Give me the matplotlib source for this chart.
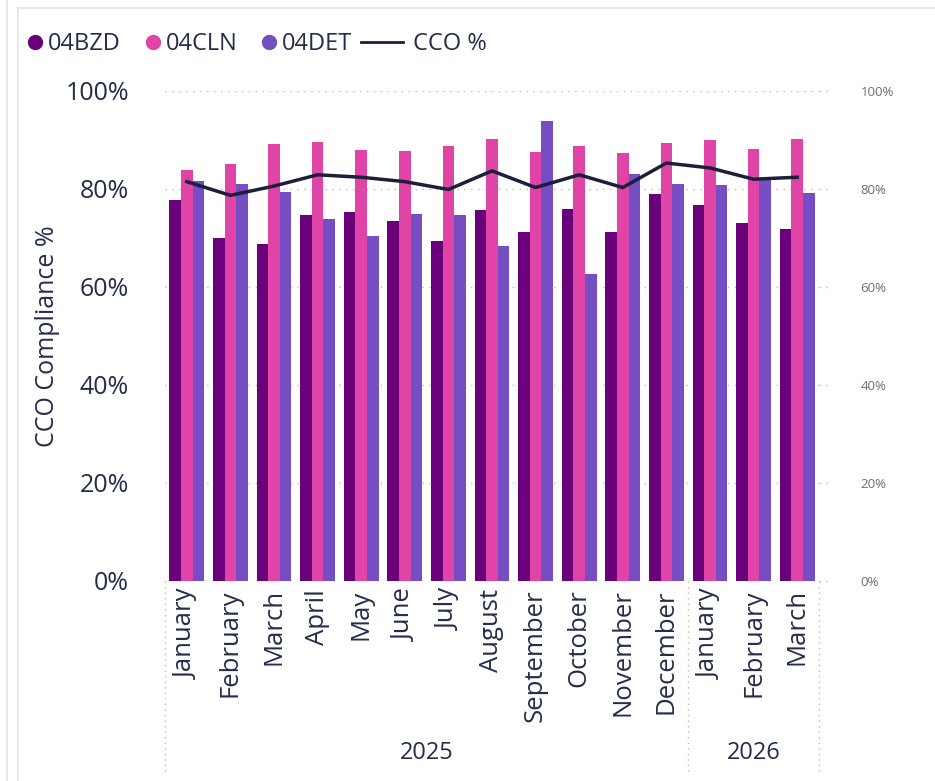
import matplotlib
matplotlib.use("Agg")
import matplotlib.pyplot as plt
import numpy as np
from matplotlib.lines import Line2D

plt.rcParams['font.family'] = ['Open Sans', 'DejaVu Sans']

months = ["January", "February", "March", "April", "May", "June", "July", "August",
          "September", "October", "November", "December", "January", "February", "March"]
years = ["2025", "2026"]
year_counts = [12, 3]

bzd = [77.7, 69.9, 68.8, 74.7, 75.4, 73.5, 69.3, 75.7, 71.3, 75.9, 71.3, 78.9, 76.7, 73.0, 71.8]
cln = [83.9, 85.0, 89.1, 89.5, 87.9, 87.8, 88.8, 90.2, 87.6, 88.8, 87.3, 89.4, 89.9, 88.2, 90.3]
det = [81.6, 81.0, 79.4, 73.8, 70.5, 75.0, 74.7, 68.4, 93.9, 62.6, 83.1, 81.0, 80.8, 81.8, 79.1]
cco = [81.5, 78.7, 80.6, 82.9, 82.4, 81.5, 79.9, 83.7, 80.3, 82.9, 80.3, 85.3, 84.3, 82.0, 82.4]

c_bzd = "#6B007B"
c_cln = "#E044A7"
c_det = "#744EC2"
c_line = "#1B1F3B"
c_text = "#252D4A"
c_grey = "#6E6E6E"

W, H = 935, 781
fig = plt.figure(figsize=(W / 100, H / 100), dpi=100)
left, right, top, bottom = 165, 819, 91, 581
ax = fig.add_axes([left / W, 1 - bottom / H, (right - left) / W, (bottom - top) / H])

x = np.arange(len(months))
bw = 0.265
ax.bar(x - bw, bzd, bw, color=c_bzd, zorder=2)
ax.bar(x, cln, bw, color=c_cln, zorder=2)
ax.bar(x + bw, det, bw, color=c_det, zorder=2)

ax.set_xlim(-0.5, len(months) - 0.5)
ax.set_ylim(0, 100)
ax.set_yticks(np.arange(0, 101, 20))
ax.set_yticklabels([f"{v}%" for v in range(0, 101, 20)], fontsize=18, color=c_text)
ax.yaxis.grid(True, linestyle=(0, (1, 4)), color="#BBBBBB", linewidth=1)
ax.set_axisbelow(True)
for s in ax.spines.values():
    s.set_visible(False)
ax.tick_params(axis='both', length=0)
ax.tick_params(axis='y', pad=26)
ax.set_xticks(x)
ax.set_xticklabels(months, rotation=90, fontsize=18.5, color=c_text)
ax.tick_params(axis='x', pad=6)
ax.set_ylabel("CCO Compliance %", fontsize=18, color=c_text, labelpad=4)

ax2 = ax.twinx()
ax2.plot(x, cco, color=c_line, linewidth=2.5, zorder=3)
ax2.set_ylim(0, 100)
ax2.set_yticks(np.arange(0, 101, 20))
ax2.set_yticklabels([f"{v}%" for v in range(0, 101, 20)], fontsize=9.5, color=c_grey)
ax2.tick_params(axis='y', length=0, pad=30)
for s in ax2.spines.values():
    s.set_visible(False)
ax2.set_ylabel("CCO %", fontsize=14, color=c_text, rotation=270, labelpad=44)

# extend gridlines to the right
for v in range(0, 101, 20):
    ax.plot([len(months) - 0.5, len(months) - 0.5 + 0.3], [v, v], linestyle=(0, (1, 4)),
            color="#BBBBBB", linewidth=1, clip_on=False, zorder=1)

# year group separators and labels
trans = ax.get_xaxis_transform()
bounds = [-0.5]
for c in year_counts:
    bounds.append(bounds[-1] + c)
for b in bounds:
    ax.plot([b, b], [0, -0.39], transform=trans, linestyle=(0, (1, 3)), color="#BBBBBB",
            linewidth=1, clip_on=False)
for i, y in enumerate(years):
    ax.text((bounds[i] + bounds[i + 1]) / 2, -0.352, y, transform=trans, ha="center",
            va="center", fontsize=17, color=c_text)

# legend (markers)
handles = [
    Line2D([], [], marker='o', linestyle='None', color=c_bzd, markersize=10),
    Line2D([], [], marker='o', linestyle='None', color=c_cln, markersize=10),
    Line2D([], [], marker='o', linestyle='None', color=c_det, markersize=10),
]
leg1 = fig.legend(handles, ["04BZD", "04CLN", "04DET"], loc="center left",
                  bbox_to_anchor=(22 / W, 1 - 44 / H), ncol=3, frameon=False, fontsize=17,
                  handlelength=0.7, handletextpad=0.2, columnspacing=1.0, labelcolor=c_text,
                  borderaxespad=0, borderpad=0.2)
leg2 = fig.legend([Line2D([], [], color=c_line, linewidth=2)], ["CCO %"], loc="center left",
                  bbox_to_anchor=(356 / W, 1 - 44 / H), frameon=False, fontsize=17,
                  handlelength=1.8, handletextpad=0.4, labelcolor=c_text,
                  borderaxespad=0, borderpad=0.2)

# frame lines
fig.add_artist(Line2D([7 / W, 7 / W], [0, 1], color="#E3E6EA", linewidth=1.2))
fig.add_artist(Line2D([18 / W, 18 / W], [0, 1 - 8 / H], color="#E3E6EA", linewidth=1.2))
fig.add_artist(Line2D([18 / W, 1], [1 - 8 / H, 1 - 8 / H], color="#E3E6EA", linewidth=1.2))

fig.savefig("out.png", dpi=100)
